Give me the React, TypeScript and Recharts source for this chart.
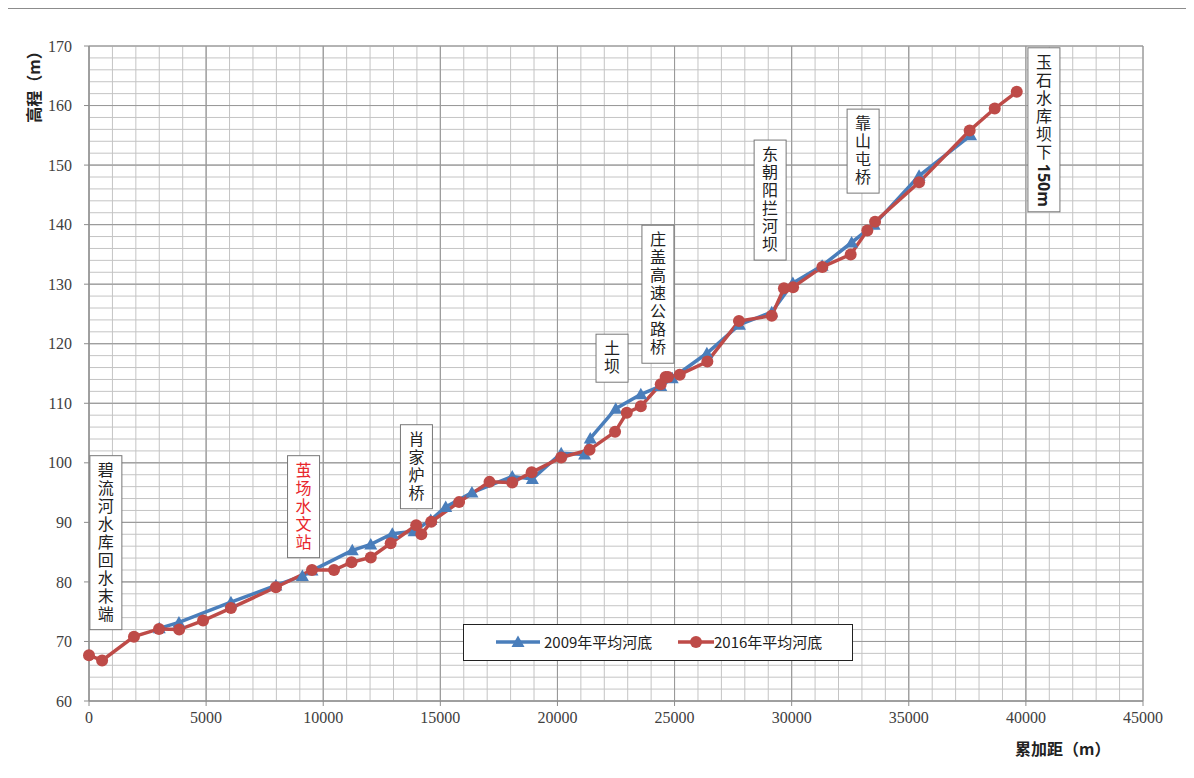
import React from "react";
import { LineChart, Line, XAxis, YAxis, CartesianGrid, ReferenceLine, ReferenceDot } from "recharts";

// 2009 average riverbed (blue, triangles)
const dist2009 = [3000, 3840, 6060, 7980, 9110, 9520, 11240, 12030, 12950, 13880, 14590, 15230, 16350, 18070, 18930, 20160, 21160, 21400, 22490, 23560, 24410, 24900, 26380, 27770, 29150, 30050, 31300, 32560, 33520, 35440, 37640];
const elev2009 = [72.2, 73.2, 76.6, 79.4, 81.0, 81.9, 85.3, 86.3, 88.1, 88.5, 90.4, 92.6, 95.0, 97.7, 97.3, 101.6, 101.4, 104.1, 109.1, 111.5, 112.9, 114.2, 118.4, 123.2, 125.3, 130.2, 133.1, 137.0, 140.0, 148.2, 155.0];

// 2016 average riverbed (red, circles)
const dist2016 = [0, 560, 1920, 2990, 3850, 4870, 6060, 7980, 9520, 10460, 11210, 12030, 12880, 13970, 14190, 14610, 15800, 17100, 18070, 18900, 20160, 21370, 22460, 22960, 23560, 24410, 24620, 24720, 25220, 26400, 27750, 29150, 29670, 30060, 31310, 32520, 33230, 33560, 35440, 37600, 38670, 39610];
const elev2016 = [67.7, 66.8, 70.8, 72.1, 72.0, 73.5, 75.6, 79.1, 82.0, 82.0, 83.3, 84.1, 86.5, 89.5, 88.0, 90.1, 93.4, 96.8, 96.7, 98.4, 100.9, 102.2, 105.2, 108.4, 109.5, 113.2, 114.4, 114.4, 114.8, 117.0, 123.8, 124.7, 129.3, 129.5, 132.9, 135.0, 139.0, 140.5, 147.1, 155.8, 159.5, 162.3];

const xTicks = [0, 5000, 10000, 15000, 20000, 25000, 30000, 35000, 40000, 45000];
const yTicks = [60, 70, 80, 90, 100, 110, 120, 130, 140, 150, 160, 170];

// annotation boxes: label, distance of box centre, elevation of box top
const noteText = ["碧流河水库回水末端", "茧场水文站", "肖家炉桥", "土坝", "庄盖高速公路桥", "东朝阳拦河坝", "靠山屯桥", "玉石水库坝下"];
const noteSuffix = ["", "", "", "", "", "", "", "150m"];
const noteDist = [720, 9160, 13980, 22330, 24290, 29080, 33050, 40770];
const noteTop = [101.2, 101.2, 106.4, 121.6, 139.9, 154.2, 159.4, 169.7];
const noteColor = ["#222", "#e8262b", "#222", "#222", "#222", "#222", "#222", "#222"];

const data2009 = dist2009.map((d, i) => ({ dist: d, elev: elev2009[i] }));
const data2016 = dist2016.map((d, i) => ({ dist: d, elev: elev2016[i] }));

const minorX: number[] = [];
for (let v = 1000; v < 45000; v += 1000) if (v % 5000 !== 0) minorX.push(v);
const minorY: number[] = [];
for (let v = 62; v < 170; v += 2) if (v % 10 !== 0) minorY.push(v);

const BLUE = "#4A7EBB";
const RED = "#BE4B48";

const Triangle = (props: any) => {
  const { cx, cy, index } = props;
  if (cx == null || cy == null) return <g key={"t" + index} />;
  return <path key={"t" + index} d={`M${cx},${cy - 6.5}L${cx + 6.5},${cy + 5}L${cx - 6.5},${cy + 5}Z`} fill={BLUE} />;
};

const Circle = (props: any) => {
  const { cx, cy, index } = props;
  if (cx == null || cy == null) return <g key={"c" + index} />;
  return <circle key={"c" + index} cx={cx} cy={cy} r={6} fill={RED} />;
};

const NoteBox = (i: number) => (props: any) => {
  const { cx, cy } = props;
  const n = Array.from(noteText[i]).length;
  const step = 18;
  const extra = noteSuffix[i] ? 44 : 0;
  const h = n * step + extra + 12;
  return (
    <g>
      <rect x={cx - 16} y={cy} width={32} height={h} fill="#fff" stroke="#777" strokeWidth={1} />
      <text
        x={cx}
        y={cy + 6}
        style={{ writingMode: "vertical-rl", textOrientation: "mixed" } as any}
        fontSize={16}
        letterSpacing={2}
        fontFamily="'Noto Sans CJK SC', sans-serif"
        fill={noteColor[i]}
      >
        {noteText[i]}
        {noteSuffix[i] && (
          <tspan fontWeight="bold" fontFamily="'Open Sans', sans-serif" letterSpacing={0} dy={2}>
            {noteSuffix[i]}
          </tspan>
        )}
      </text>
    </g>
  );
};

const tickStyle = { fill: "#404040", fontSize: 16, fontFamily: "'Liberation Serif', serif" };
const labelFont = "'Noto Sans CJK SC', sans-serif";

export default function App() {
  return (
    <div style={{ position: "relative", width: 1182, height: 762, borderTop: "1px solid #8c8c8c", borderLeft: "1px solid #8c8c8c", borderRight: "1px solid #8c8c8c", marginLeft: -1, background: "#fff" }}>
      <LineChart width={1180} height={762} margin={{ top: 37, right: 45, left: 21, bottom: 40 }}>
        <CartesianGrid stroke="#9a9a9a" strokeWidth={1} />
        {minorX.map((v) => (
          <ReferenceLine key={"vx" + v} x={v} stroke="#c4c4c4" strokeWidth={1} />
        ))}
        {minorY.map((v) => (
          <ReferenceLine key={"hy" + v} y={v} stroke="#c4c4c4" strokeWidth={1} />
        ))}
        {xTicks.map((v) => (
          <ReferenceLine key={"mx" + v} x={v} stroke="#9a9a9a" strokeWidth={1} />
        ))}
        {yTicks.map((v) => (
          <ReferenceLine key={"my" + v} y={v} stroke="#9a9a9a" strokeWidth={1} />
        ))}
        <XAxis
          dataKey="dist"
          type="number"
          domain={[0, 45000]}
          ticks={xTicks}
          allowDuplicatedCategory={false}
          stroke="#8c8c8c"
          tickSize={5}
          tickMargin={6}
          height={30}
          tick={tickStyle}
        />
        <YAxis
          type="number"
          domain={[60, 170]}
          ticks={yTicks}
          stroke="#8c8c8c"
          tickSize={5}
          tickMargin={12}
          width={60}
          tick={tickStyle}
        />
        <Line data={data2009} dataKey="elev" name="2009年平均河底" type="linear" stroke={BLUE} strokeWidth={3.5} dot={Triangle} activeDot={false} isAnimationActive={false} />
        <Line data={data2016} dataKey="elev" name="2016年平均河底" type="linear" stroke={RED} strokeWidth={3.5} dot={Circle} activeDot={false} isAnimationActive={false} />
        {noteText.map((t, i) => (
          <ReferenceDot key={t} x={noteDist[i]} y={noteTop[i]} r={0} ifOverflow="visible" shape={NoteBox(i)} />
        ))}
      </LineChart>
      {/* legend */}
      <div style={{ position: "absolute", left: 455, top: 615, width: 390, height: 37, border: "1px solid #222", background: "#fff", boxSizing: "border-box", fontFamily: labelFont, fontSize: 15, color: "#222" }}>
        <svg width={390} height={35} style={{ position: "absolute", left: 0, top: 0 }}>
          <line x1={32} y1={17} x2={76} y2={17} stroke={BLUE} strokeWidth={3.5} />
          <path d="M54,10.5L60.5,22L47.5,22Z" fill={BLUE} />
          <line x1={214} y1={17} x2={250} y2={17} stroke={RED} strokeWidth={3.5} />
          <circle cx={232} cy={17} r={6} fill={RED} />
        </svg>
        <span style={{ position: "absolute", left: 80, top: 6 }}>2009年平均河底</span>
        <span style={{ position: "absolute", left: 250, top: 6 }}>2016年平均河底</span>
      </div>
      <div style={{ position: "absolute", left: 10, top: 32, width: 30, height: 84, display: "flex", alignItems: "center", justifyContent: "center" }}>
        <div style={{ transform: "rotate(-90deg)", whiteSpace: "nowrap", fontFamily: labelFont, fontWeight: "bold", fontSize: 16, color: "#222" }}>高程（m）</div>
      </div>
      <div style={{ position: "absolute", left: 1007, top: 727, whiteSpace: "nowrap", fontFamily: labelFont, fontWeight: "bold", fontSize: 16, color: "#222" }}>累加距（m）</div>
    </div>
  );
}
